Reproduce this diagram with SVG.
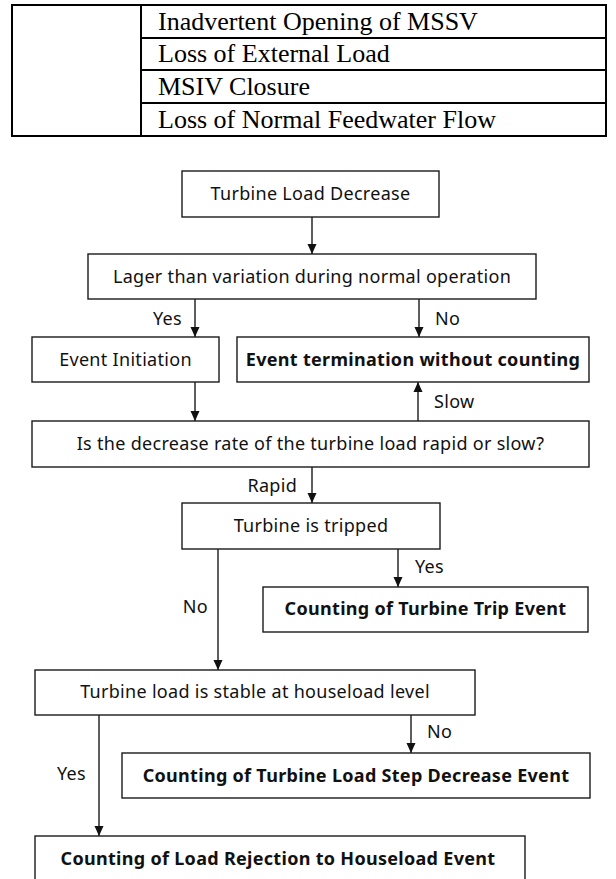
<svg xmlns="http://www.w3.org/2000/svg" width="616" height="879" viewBox="0 0 616 879">
<style>
.tbl{fill:none;stroke:#000;stroke-width:2}
.tl{stroke:#000;stroke-width:2}
.tt{font-family:"Liberation Serif","Times New Roman",serif;font-size:26px;fill:#000}
.box{fill:#fff;stroke:#1a1a1a;stroke-width:1.4}
.t{font-family:"Noto Sans","Open Sans",sans-serif;font-size:18px;letter-spacing:0.3px;fill:#111;text-anchor:middle}
.b{font-weight:bold}
.lbl{font-family:"Noto Sans","Open Sans",sans-serif;font-size:18px;letter-spacing:0.3px;fill:#111}
.c{stroke:#1a1a1a;stroke-width:1.4;fill:none;marker-end:url(#ah)}
</style>
<defs>
<marker id="ah" viewBox="0 0 10 10" refX="10" refY="5" markerWidth="10" markerHeight="10" markerUnits="userSpaceOnUse" orient="auto">
<path d="M0,0.5 L10,5 L0,9.5 Z" fill="#111"/>
</marker>
</defs>
<rect width="616" height="879" fill="#fff"/>
<g id="table">
<rect class="tbl" x="12" y="5" width="594" height="131"/>
<line class="tl" x1="141" y1="5" x2="141" y2="136"/>
<line class="tl" x1="141" y1="38" x2="606" y2="38"/>
<line class="tl" x1="141" y1="70" x2="606" y2="70"/>
<line class="tl" x1="141" y1="103" x2="606" y2="103"/>
<text class="tt" x="158" y="30">Inadvertent Opening of MSSV</text>
<text class="tt" x="158" y="62">Loss of External Load</text>
<text class="tt" x="158" y="95">MSIV Closure</text>
<text class="tt" x="158" y="128">Loss of Normal Feedwater Flow</text>
</g>
<g id="connectors">
<line class="c" x1="312" y1="217" x2="312" y2="254"/>
<line class="c" x1="195" y1="299" x2="195" y2="337"/>
<line class="c" x1="419" y1="299" x2="419" y2="337"/>
<line class="c" x1="195" y1="382" x2="195" y2="421"/>
<line class="c" x1="418" y1="421" x2="418" y2="382"/>
<line class="c" x1="312" y1="467" x2="312" y2="503"/>
<line class="c" x1="398" y1="549" x2="398" y2="587"/>
<line class="c" x1="218" y1="549" x2="218" y2="670"/>
<line class="c" x1="411" y1="715" x2="411" y2="753"/>
<line class="c" x1="99" y1="715" x2="99" y2="836"/>
<text class="lbl" x="182" y="325" text-anchor="end">Yes</text>
<text class="lbl" x="435" y="325">No</text>
<text class="lbl" x="434" y="408">Slow</text>
<text class="lbl" x="297" y="492" text-anchor="end">Rapid</text>
<text class="lbl" x="415" y="573">Yes</text>
<text class="lbl" x="208" y="613" text-anchor="end">No</text>
<text class="lbl" x="427" y="738">No</text>
<text class="lbl" x="86" y="780" text-anchor="end">Yes</text>
</g>
<g id="n1"><rect class="box" x="182" y="171" width="257" height="46"/><text class="t" x="310.5" y="200">Turbine Load Decrease</text></g>
<g id="n2"><rect class="box" x="88" y="254" width="448" height="45"/><text class="t" x="312" y="283">Lager than variation during normal operation</text></g>
<g id="n3"><rect class="box" x="32" y="337" width="187" height="45"/><text class="t" x="125.5" y="366">Event Initiation</text></g>
<g id="n4"><rect class="box" x="237" y="337" width="352" height="45"/><text class="t b" x="413" y="366">Event termination without counting</text></g>
<g id="n5"><rect class="box" x="32" y="421" width="557" height="46"/><text class="t" x="310.5" y="450">Is the decrease rate of the turbine load rapid or slow?</text></g>
<g id="n6"><rect class="box" x="182" y="503" width="258" height="46"/><text class="t" x="311" y="532">Turbine is tripped</text></g>
<g id="n7"><rect class="box" x="263" y="587" width="325" height="45"/><text class="t b" x="425.5" y="615">Counting of Turbine Trip Event</text></g>
<g id="n8"><rect class="box" x="35" y="670" width="440" height="45"/><text class="t" x="255" y="698">Turbine load is stable at houseload level</text></g>
<g id="n9"><rect class="box" x="122" y="753" width="468" height="45"/><text class="t b" x="356" y="782">Counting of Turbine Load Step Decrease Event</text></g>
<g id="n10"><rect class="box" x="35" y="836" width="490" height="45"/><text class="t b" x="278" y="865">Counting of Load Rejection to Houseload Event</text></g>
</svg>
